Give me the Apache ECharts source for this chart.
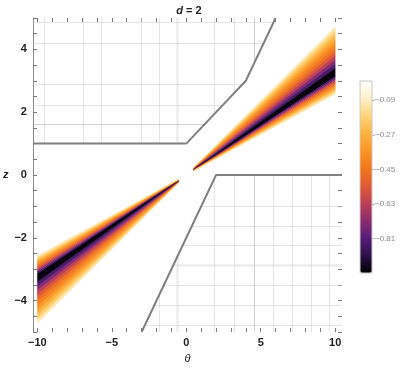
<!DOCTYPE html>
<html>
<head>
<meta charset="utf-8">
<script src="https://cdn.jsdelivr.net/npm/echarts@6/dist/echarts.min.js"></script>
<style>
  html, body { margin: 0; padding: 0; background: #fff; }
  #chart { width: 407px; height: 369px; }
</style>
</head>
<body>
<div id="chart"></div>
<script>
// contour bands, given as slopes z/theta: outer edge above -> black core -> outer edge below
var bandEdges = [0.471, 0.458, 0.445, 0.432, 0.419, 0.406, 0.393, 0.380, 0.367, 0.354, 0.340,
                 0.313, 0.307, 0.302, 0.296, 0.291, 0.285, 0.280, 0.274, 0.269, 0.263, 0.258];
var bandLevels = [-0.12, -0.19, -0.26, -0.33, -0.40, -0.46, -0.53, -0.62, -0.72, -0.83,
                  -0.97,
                  -0.83, -0.72, -0.62, -0.53, -0.46, -0.40, -0.33, -0.26, -0.19, -0.12];
var wedgeRanges = [[0.5, 10], [-0.5, -10]];

// gray region borders
var upperBoundary = [[-10.3, 1], [0, 1], [4, 3], [6, 5]];
var lowerBoundary = [[-3, -5], [2, 0], [10.46, 0]];

// mesh lines inside the two regions
var meshTheta = [-9.54, -6.95, -5.7, -3.05, -1.8, -0.61, 1.91, 3.23, 4.58, 5.85, 7.1, 8.37, 9.63];
var meshZUpper = [4.85, 4.19, 2.9, 2.23, 1.62];
var meshZLower = [-0.98, -1.62, -2.25, -2.89, -3.52, -4.16, -4.79];
var darkTheta = [4.58];
var wideTheta = [-0.61];
var darkZ = [1.62];
var wideZ = [-2.89];

// colour scale
var colorStops = ['#000000', '#2b1048', '#561d7a', '#8a2b6e', '#bd3f55', '#e05a34',
                  '#f4781a', '#fa9524', '#fcb33e', '#fdd379', '#fff0c9', '#ffffff'];
var colorMin = -0.99, colorMax = 0.01;
var colorbarTicks = [-0.09, -0.27, -0.45, -0.63, -0.81];

// axis ticks
var xLabels = [-10, -5, 0, 5, 10];
var xTicks = [-10, -9, -8, -7, -6, -5, -4, -3, -2, -1, 0, 1, 2, 3, 4, 5, 6, 7, 8, 9, 10];
var zLabels = [-4, -2, 0, 2, 4];
var zTicks = [-5, -4.5, -4, -3.5, -3, -2.5, -2, -1.5, -1, -0.5, 0, 0.5, 1, 1.5, 2, 2.5, 3, 3.5, 4, 4.5, 5];

var xMin = -10.3, xMax = 10.46, zMin = -5, zMax = 5;

function interp(poly, x) {
  for (var i = 0; i < poly.length - 1; i++) {
    var a = poly[i], b = poly[i + 1];
    if (x >= a[0] && x <= b[0]) return a[1] + (b[1] - a[1]) * (x - a[0]) / (b[0] - a[0]);
  }
  return null;
}
function inverse(poly, z) {
  for (var i = 0; i < poly.length - 1; i++) {
    var a = poly[i], b = poly[i + 1];
    if (a[1] !== b[1] && z >= Math.min(a[1], b[1]) && z <= Math.max(a[1], b[1]))
      return a[0] + (b[0] - a[0]) * (z - a[1]) / (b[1] - a[1]);
  }
  return null;
}
function minus(v) { return String(v).replace('-', '\u2212'); }

var wedgeData = [];
wedgeRanges.forEach(function (rg) {
  for (var i = 0; i < bandLevels.length; i++) {
    wedgeData.push([bandEdges[i], bandEdges[i + 1], rg[0], rg[1], bandLevels[i]]);
  }
});

function meshItem(coords, dark, wide) {
  var st = { color: '#cccccc', width: 1 };
  if (dark) st = { color: '#a0a0a0', width: 1 };
  if (wide) st = { color: '#dcdcdc', width: 2.5 };
  return { coords: coords, lineStyle: st };
}
var meshData = [];
meshTheta.forEach(function (t) {
  var dark = darkTheta.indexOf(t) >= 0, wide = wideTheta.indexOf(t) >= 0;
  var zu = interp(upperBoundary, t);
  if (zu !== null && zu < zMax) meshData.push(meshItem([[t, zu], [t, zMax]], dark, wide));
  var zl = interp(lowerBoundary, t);
  if (zl !== null && zl > zMin) meshData.push(meshItem([[t, zMin], [t, zl]], dark, wide));
});
meshZUpper.forEach(function (z) {
  meshData.push(meshItem([[xMin, z], [inverse(upperBoundary, z), z]], darkZ.indexOf(z) >= 0, false));
});
meshZLower.forEach(function (z) {
  meshData.push(meshItem([[inverse(lowerBoundary, z), z], [xMax, z]], false, wideZ.indexOf(z) >= 0));
});

var labelFont = { fontFamily: 'Liberation Sans', fontWeight: 'bold', fontSize: 11, color: '#222' };
var tickStyle = { color: '#777', width: 1 };

function plotAxis(dim, pos, labels, ticks, extra) {
  var ax = {
    type: 'value', gridIndex: 0, position: pos,
    min: dim === 'x' ? xMin : zMin, max: dim === 'x' ? xMax : zMax,
    splitLine: { show: false },
    axisLine: { show: false, onZero: false },
    axisTick: { show: true, inside: true, length: 4, customValues: ticks, lineStyle: tickStyle },
    axisLabel: labels ? Object.assign({ customValues: labels, formatter: minus }, labelFont)
                      : { show: false }
  };
  return Object.assign(ax, extra || {});
}

var chart = echarts.init(document.getElementById('chart'));
chart.setOption({
  animation: false,
  title: {
    text: '{i|d} = 2', left: 184, top: 0, textAlign: 'center',
    textStyle: {
      fontFamily: 'Liberation Sans', fontWeight: 'bold', fontSize: 11, color: '#222',
      rich: { i: { fontFamily: 'Liberation Sans', fontStyle: 'italic', fontWeight: 'bold', fontSize: 11, color: '#222' } }
    }
  },
  grid: [
    { left: 29, top: 18, width: 313, height: 315 },
    { left: 360, top: 81, width: 12, height: 192, show: true, z: 5,
      backgroundColor: 'transparent', borderColor: '#c8c8c8', borderWidth: 1 }
  ],
  xAxis: [
    plotAxis('x', 'bottom', xLabels, xTicks, {
      name: '\u03b8', nameLocation: 'middle', nameGap: 21,
      nameTextStyle: { fontFamily: 'Liberation Sans', fontStyle: 'italic', fontSize: 11, color: '#222' },
      axisLabel: Object.assign({ customValues: xLabels, formatter: minus, margin: 5 }, labelFont)
    }),
    plotAxis('x', 'top', null, xTicks),
    { type: 'value', gridIndex: 1, show: false, min: 0, max: 1 }
  ],
  yAxis: [
    plotAxis('y', 'left', zLabels, zTicks, {
      axisLine: { show: true, onZero: false, lineStyle: { color: '#8a8a8a', width: 1 } },
      name: 'z', nameLocation: 'middle', nameRotate: 0, nameGap: 22,
      nameTextStyle: { fontFamily: 'Liberation Sans', fontStyle: 'italic', fontWeight: 'bold', fontSize: 11, color: '#222' },
      axisLabel: Object.assign({ customValues: zLabels, formatter: minus, margin: 6 }, labelFont)
    }),
    plotAxis('y', 'right', null, zTicks),
    {
      type: 'value', gridIndex: 1, position: 'right', min: colorMin, max: colorMax,
      splitLine: { show: false }, axisLine: { show: false, onZero: false },
      axisTick: { show: true, length: 3, customValues: colorbarTicks, lineStyle: { color: '#bbb' } },
      axisLabel: { customValues: colorbarTicks, formatter: minus, margin: 3,
                   fontFamily: 'Liberation Sans', fontSize: 8, color: '#8a8a8a' }
    }
  ],
  visualMap: {
    type: 'continuous', seriesIndex: 0, dimension: 4,
    min: colorMin, max: colorMax, inRange: { color: colorStops },
    left: 360, top: 81, itemWidth: 12, itemHeight: 192, padding: 0,
    calculable: false, hoverLink: false, z: 1
  },
  series: [
    {
      type: 'custom', xAxisIndex: 0, yAxisIndex: 0, clip: true, z: 3,
      data: wedgeData,
      renderItem: function (params, api) {
        var r0 = api.value(0), r1 = api.value(1), t0 = api.value(2), t1 = api.value(3);
        var pts = [api.coord([t0, r0 * t0]), api.coord([t1, r0 * t1]),
                   api.coord([t1, r1 * t1]), api.coord([t0, r1 * t0])];
        var c = api.visual('color');
        return { type: 'polygon', shape: { points: pts }, style: { fill: c, stroke: c, lineWidth: 0.5 } };
      }
    },
    {
      type: 'lines', coordinateSystem: 'cartesian2d', xAxisIndex: 0, yAxisIndex: 0, z: 1,
      silent: true, data: meshData
    },
    {
      type: 'line', xAxisIndex: 0, yAxisIndex: 0, data: upperBoundary, showSymbol: false, z: 2,
      lineStyle: { color: '#808080', width: 2 }, clip: true
    },
    {
      type: 'line', xAxisIndex: 0, yAxisIndex: 0, data: lowerBoundary, showSymbol: false, z: 2,
      lineStyle: { color: '#808080', width: 2 }, clip: true
    }
  ]
});
</script>
</body>
</html>
